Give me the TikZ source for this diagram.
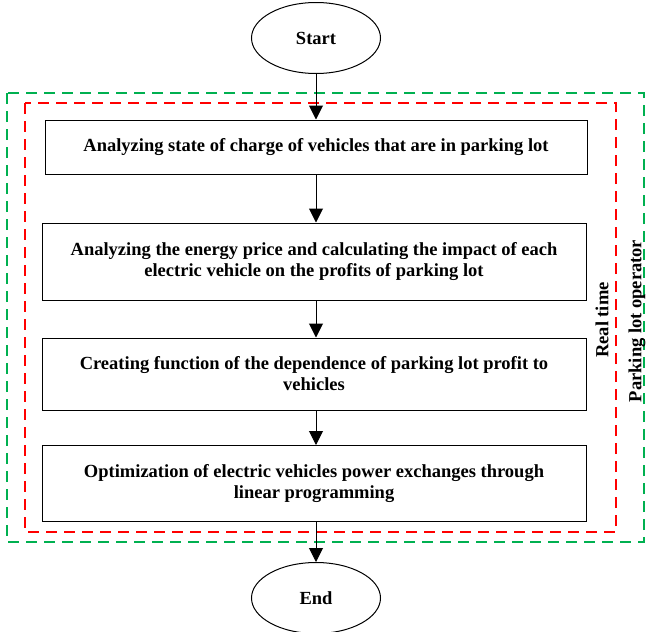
\documentclass[tikz,border=0pt]{standalone}
\usepackage{fontspec}
\setmainfont{Liberation Serif}
\usetikzlibrary{arrows.meta,shapes.geometric}
\definecolor{dgreen}{RGB}{0,176,80}
\definecolor{dred}{RGB}{255,0,0}
\begin{document}
\begin{tikzpicture}[x=1pt,y=-1pt,
  txt/.style={font=\bfseries\fontsize{18.5}{21}\selectfont, align=center},
  procbox/.style={draw=black, line width=1pt, inner sep=0pt},
  term/.style={draw=black, line width=1pt, ellipse, minimum width=129pt, minimum height=71pt, inner sep=0pt, txt},
  flow/.style={line width=1pt, -{Triangle[length=14pt,width=14pt]}},
  gframe/.style={draw=dgreen, line width=2.8pt, dash pattern=on 11pt off 7pt},
  rframe/.style={draw=dred, line width=2.8pt, dash pattern=on 11pt off 7pt}
]
\useasboundingbox (0,0) rectangle (649,632);
\draw[gframe] (7,93) rectangle (644,542);
\draw[rframe] (25,103) rectangle (616,532);

\node[term] (start) at (316,38) {Start};
\node[term] (end) at (316,598) {End};

\node[procbox, minimum width=542pt, minimum height=54pt] (b1) at (316,147) {};
\node[txt] at (b1) {Analyzing state of charge of vehicles that are in parking lot};

\node[procbox, minimum width=544pt, minimum height=77pt] (b2) at (314,261.5) {};
\node[txt] at (b2) {Analyzing the energy price and calculating the impact of each\\electric vehicle on the profits of parking lot};

\node[procbox, minimum width=544pt, minimum height=72pt] (b3) at (314,374) {};
\node[txt] at (b3) {Creating function of the dependence of parking lot profit to\\vehicles};

\node[procbox, minimum width=544pt, minimum height=76pt] (b4) at (314,483.5) {};
\node[txt] at (b4) {Optimization of electric vehicles power exchanges through\\linear programming};

\draw[flow] (start.south) -- (start.south |- b1.north);
\draw[flow] (b1.south -| start.south) -- (start.south |- b2.north);
\draw[flow] (b2.south -| start.south) -- (start.south |- b3.north);
\draw[flow] (b3.south -| start.south) -- (start.south |- b4.north);
\draw[flow] (b4.south -| start.south) -- (end.north);

\node[txt, rotate=90] (rt) at (602,320) {Real time};
\node[txt, rotate=90] (plo) at (637,321) {Parking lot operator};
\end{tikzpicture}
\end{document}
